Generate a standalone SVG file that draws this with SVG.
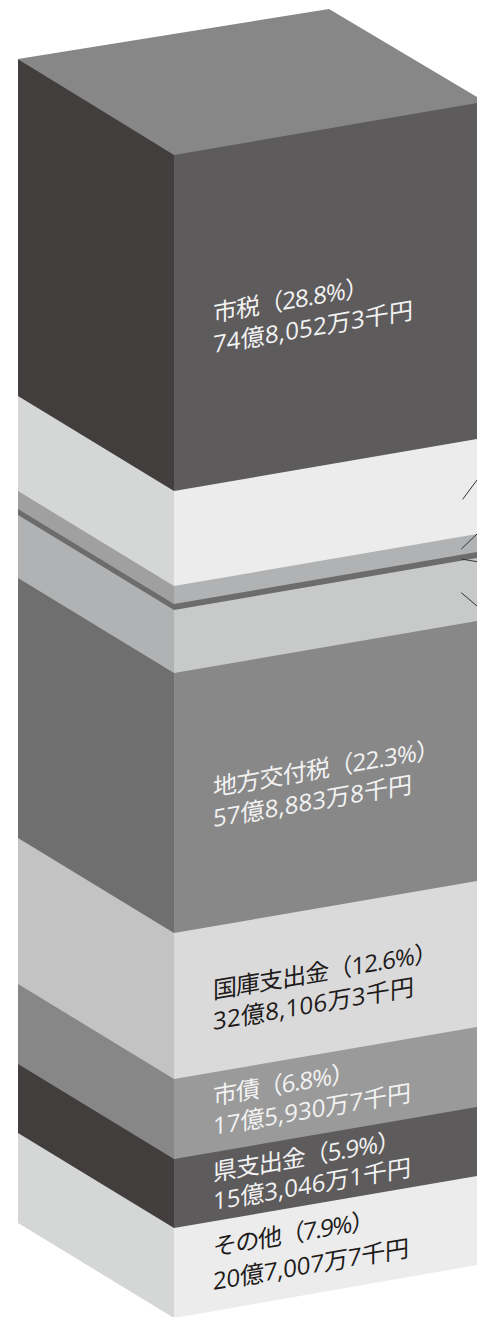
<svg xmlns="http://www.w3.org/2000/svg" width="477" height="1317" viewBox="0 0 477 1317">
<style>
.lbl{font-family:"Open Sans","Noto Sans CJK JP","Noto Sans CJK SC",sans-serif;font-size:24px;}
.w{fill:#f2f2f2;}
.k{fill:#1e1b1a;}
.lead{stroke:#333333;stroke-width:1;fill:none;}
</style>
<rect width="477" height="1317" fill="#ffffff"/>
<g id="top">
<polygon points="18,59 329,9 477,97 477,104 174,156" fill="#878787"/>
</g>
<g id="shizei">
<polygon points="174,155 477,103 477,440 174,492" fill="#5d5b5c"/>
<polygon points="18,59 174,155 174,492 18,397" fill="#413e3d"/>
<g transform="translate(213,322) skewY(-9.74)">
<text class="lbl w" x="0" y="0" textLength="156" lengthAdjust="spacing">市税（28.8%）</text>
<text class="lbl w" x="0" y="31" textLength="200" lengthAdjust="spacing">74億8,052万3千円</text>
</g>
</g>
<g id="bandA">
<polygon points="174,491 477,439 477,535 174,587" fill="#ebeceb"/>
<polygon points="18,396 174,491 174,587 18,492" fill="#d5d6d6"/>
</g>
<g id="bandB">
<polygon points="174,586 477,534 477,553 174,605" fill="#b1b2b3"/>
<polygon points="18,491 174,586 174,605 18,510" fill="#a0a0a0"/>
</g>
<g id="bandLine">
<polygon points="174,604 477,552 477,559 174,611" fill="#6c6c6c"/>
<polygon points="18,509 174,604 174,611 18,516" fill="#6c6c6c"/>
</g>
<g id="bandC">
<polygon points="174,610 477,558 477,622 174,674" fill="#c8c9c9"/>
<polygon points="18,515 174,610 174,674 18,579" fill="#b1b2b3"/>
</g>
<g id="chihoukoufuzei">
<polygon points="174,673 477,621 477,882 174,934" fill="#888888"/>
<polygon points="18,578 174,673 174,934 18,839" fill="#6f6f6f"/>
<g transform="translate(213,796) skewY(-9.74)">
<text class="lbl w" x="0" y="0" textLength="227" lengthAdjust="spacing">地方交付税（22.3%）</text>
<text class="lbl w" x="0" y="31" textLength="199" lengthAdjust="spacing">57億8,883万8千円</text>
</g>
</g>
<g id="kokko">
<polygon points="174,933 477,881 477,1028 174,1080" fill="#dadada"/>
<polygon points="18,838 174,933 174,1080 18,985" fill="#c3c3c3"/>
<g transform="translate(213,999) skewY(-9.74)">
<text class="lbl k" x="0" y="0" textLength="225" lengthAdjust="spacing">国庫支出金（12.6%）</text>
<text class="lbl k" x="0" y="31" textLength="201" lengthAdjust="spacing">32億8,106万3千円</text>
</g>
</g>
<g id="shisai">
<polygon points="174,1079 477,1027 477,1108 174,1160" fill="#9a9a9a"/>
<polygon points="18,984 174,1079 174,1160 18,1065" fill="#878787"/>
<g transform="translate(213,1105) skewY(-9.74)">
<text class="lbl w" x="0" y="0" textLength="142" lengthAdjust="spacing">市債（6.8%）</text>
<text class="lbl w" x="0" y="30" textLength="198" lengthAdjust="spacing">17億5,930万7千円</text>
</g>
</g>
<g id="ken">
<polygon points="174,1159 477,1107 477,1177 174,1229" fill="#5d5b5c"/>
<polygon points="18,1064 174,1159 174,1229 18,1134" fill="#413e3d"/>
<g transform="translate(213,1181) skewY(-9.74)">
<text class="lbl w" x="0" y="0" textLength="188" lengthAdjust="spacing">県支出金（5.9%）</text>
<text class="lbl w" x="0" y="29" textLength="198" lengthAdjust="spacing">15億3,046万1千円</text>
</g>
</g>
<g id="sonota">
<polygon points="174,1228 477,1176 477,1265 174,1318" fill="#ebeceb"/>
<polygon points="18,1133 174,1228 174,1318 18,1223" fill="#d5d6d6"/>
<g transform="translate(213,1256) skewY(-9.74)">
<text class="lbl k" x="0" y="0" textLength="162" lengthAdjust="spacing">その他（7.9%）</text>
<text class="lbl k" x="0" y="34" textLength="196" lengthAdjust="spacing">20億7,007万7千円</text>
</g>
</g>
<g id="connectors">
<line class="lead" x1="462.7" y1="499.3" x2="477" y2="480"/>
<line class="lead" x1="461.3" y1="549" x2="477" y2="534"/>
<line class="lead" x1="461.3" y1="559" x2="477" y2="561.7"/>
<line class="lead" x1="461.3" y1="592.7" x2="477" y2="606"/>
</g>
</svg>
